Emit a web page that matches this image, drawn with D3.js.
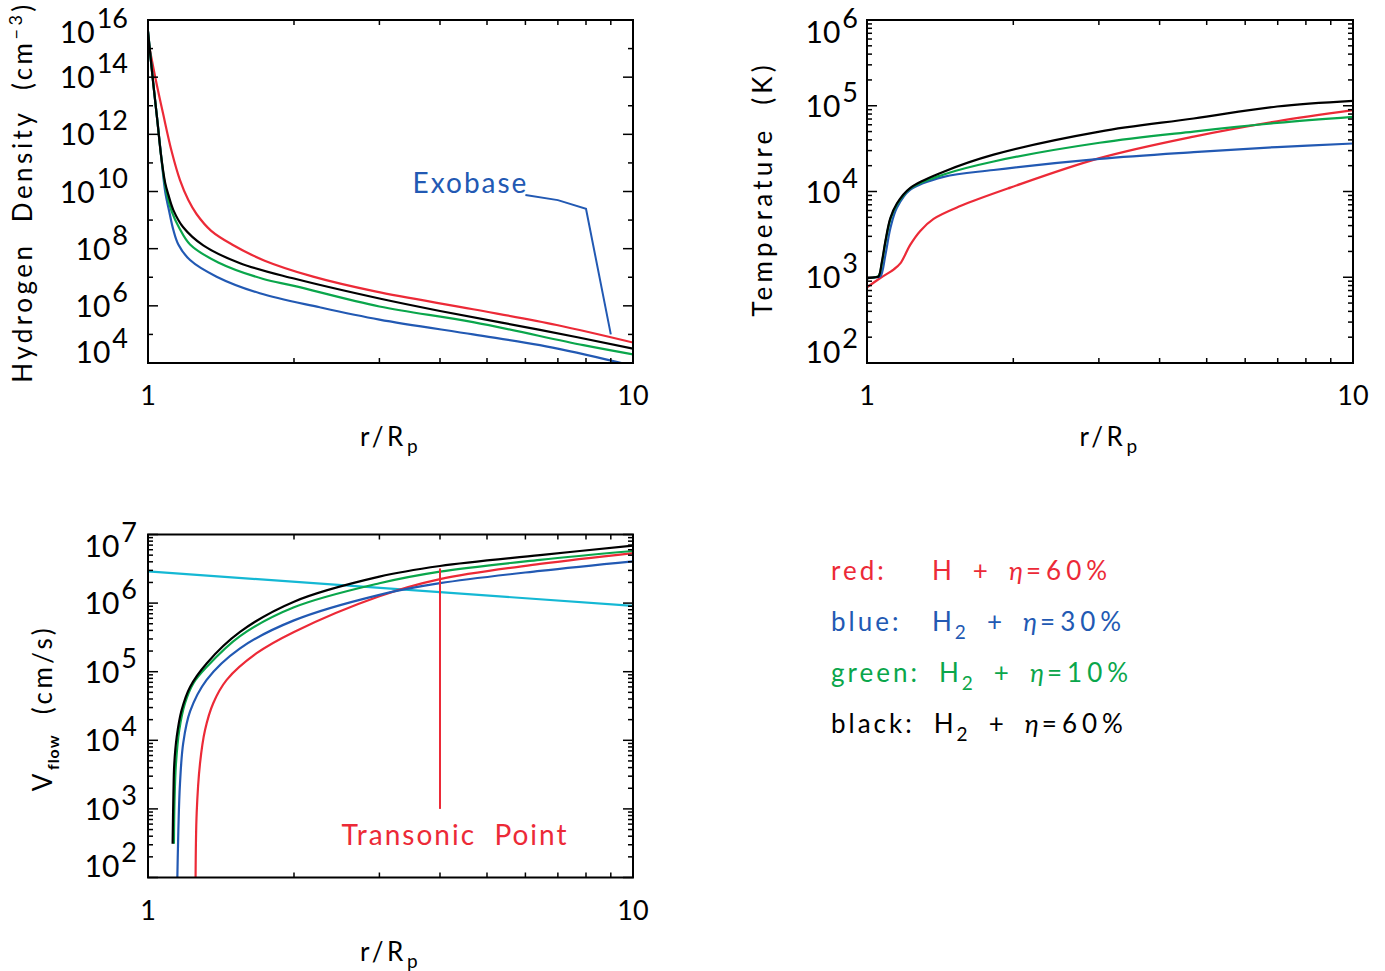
<!DOCTYPE html>
<html lang="en">
<head>
<meta charset="utf-8">
<title>Escape profiles</title>
<script src="https://d3js.org/d3.v7.min.js"></script>
<style>
  body { margin: 0; background: #fff; }
  svg text { font-family: Lato, "DejaVu Sans", sans-serif; white-space: pre; }
</style>
</head>
<body>
<div id="chart"></div>
<script>
// ---- data: [r/Rp, value] ----
var densRed   = [[1.0,2.0e15],[1.035,1.0e14],[1.075,5.0e12],[1.119,2.5e11],[1.164,2.5e10],[1.211,5.0e9],[1.26,1.6e9],[1.35,4.2e8],[1.49,1.4e8],[1.74,3.8e7],[2.19,1.05e7],[2.94,3.2e6],[4.68,7.6e5],[6.96,2.14e5],[10,5.2e4]];
var densBlack = [[1.0,4.0e15],[1.025,6.3e13],[1.045,3.2e12],[1.065,1.6e11],[1.085,2.0e10],[1.101,7.9e9],[1.128,2.24e9],[1.182,5.6e8],[1.3,1.3e8],[1.548,3.1e7],[2.0,9.0e6],[3.0,1.8e6],[4.0,6.6e5],[6.43,1.45e5],[10,3.2e4]];
var densGreen = [[1.0,4.0e15],[1.025,6.3e13],[1.045,3.2e12],[1.065,1.6e11],[1.085,1.6e10],[1.119,2.0e9],[1.16,5.3e8],[1.221,1.4e8],[1.396,3.3e7],[1.729,8.7e6],[2.0,5.0e6],[3.0,9.5e5],[4.68,2.7e5],[7.9,4.2e4],[10,2.0e4]];
var densBlue  = [[1.0,4.0e15],[1.025,6.3e13],[1.045,3.2e12],[1.065,1.6e11],[1.085,1.0e10],[1.106,2.0e9],[1.128,4.5e8],[1.155,1.41e8],[1.221,4.0e7],[1.385,1.05e7],[1.70,2.75e6],[2.26,8.9e5],[3.0,3.3e5],[4.68,1.0e5],[6.43,4.2e4],[8.83,1.32e4],[10,7.9e3]];
var exobaseLine = [[6.0,7.5e9],[7.0,5.0e9],[8.0,2.5e9],[9.0,1.0e5]];

var tempRed   = [[1.0,760],[1.065,980],[1.134,1230],[1.171,1450],[1.228,2400],[1.287,3470],[1.371,4790],[1.556,6760],[1.972,1.11e4],[3.01,2.45e4],[4.70,4.37e4],[6.98,6.6e4],[10,8.9e4]];
var tempBlack = [[1.0,977],[1.04,1000],[1.056,1020],[1.073,1510],[1.091,2630],[1.117,4900],[1.152,7240],[1.228,1.10e4],[1.438,1.70e4],[1.822,2.69e4],[3.01,5.0e4],[4.70,7.1e4],[6.98,9.8e4],[10,1.14e5]];
var tempGreen = [[1.0,977],[1.04,1000],[1.058,1050],[1.075,1550],[1.093,2700],[1.119,4900],[1.155,7200],[1.228,1.09e4],[1.438,1.58e4],[1.822,2.24e4],[3.01,3.7e4],[4.70,5.0e4],[6.98,6.3e4],[10,7.4e4]];
var tempBlue  = [[1.0,977],[1.045,1000],[1.065,1020],[1.091,1820],[1.117,3720],[1.152,6460],[1.228,1.05e4],[1.438,1.48e4],[1.822,1.78e4],[3.01,2.4e4],[4.70,2.88e4],[6.98,3.3e4],[10,3.63e4]];

var velRed   = [[1.253,60],[1.26,870],[1.28,4570],[1.311,1.41e4],[1.363,3.47e4],[1.453,7.6e4],[1.675,1.86e5],[2.0,3.8e5],[3.0,1.26e6],[4.0,2.24e6],[6.43,3.72e6],[10,5.37e6]];
var velBlack = [[1.124,310],[1.128,1510],[1.133,4570],[1.146,1.12e4],[1.173,2.75e4],[1.221,6.0e4],[1.321,1.32e5],[1.548,3.8e5],[2.0,1.05e6],[3.0,2.43e6],[4.0,3.47e6],[6.43,5.0e6],[10,6.9e6]];
var velGreen = [[1.131,310],[1.134,1260],[1.142,4570],[1.16,1.41e4],[1.192,3.47e4],[1.24,6.76e4],[1.321,1.17e5],[1.548,3.3e5],[2.0,8.7e5],[3.0,1.95e6],[4.0,2.88e6],[6.43,4.27e6],[10,5.75e6]];
var velBlue  = [[1.148,60],[1.155,490],[1.164,2340],[1.182,9100],[1.221,2.63e4],[1.321,7.6e4],[1.548,2.19e5],[2.0,5.6e5],[3.0,1.32e6],[4.0,1.95e6],[6.43,2.95e6],[10,4.07e6]];
var soundSpeed = [[1.0,2.9e6],[10,9.1e5]];
var transonicLine = [[4.0,3.2e6],[4.0,1.0e3]];

var densTickExps = [4,6,8,10,12,14,16];
var tempTickExps = [2,3,4,5,6];
var velTickExps  = [2,3,4,5,6,7];
var xTickLabels  = [1,10];

var legendNames   = ["red:", "blue:", "green:", "black:"];
var legendSpecies = ["H", "H2", "H2", "H2"];
var legendEta     = ["60%", "30%", "10%", "60%"];

var colors = { red: "#ec2a37", blue: "#2259b3", green: "#0aa64b", black: "#000000", cyan: "#14b8d4" };
var legendColors = [colors.red, colors.blue, colors.green, colors.black];

var svg = d3.select("#chart").append("svg")
    .attr("width", 1385)
    .attr("height", 971);

function panel(p) {
    var x = d3.scaleLog().domain([1, 10]).range([p.left, p.right]);
    var y = d3.scaleLog().domain(p.yDomain).range([p.bottom, p.top]);
    var g = svg.append("g");

    svg.append("clipPath").attr("id", "clip-" + p.id)
        .append("rect")
        .attr("x", p.left).attr("y", p.top)
        .attr("width", p.right - p.left).attr("height", p.bottom - p.top);

    var smooth = d3.line()
        .x(function(d) { return x(d[0]); })
        .y(function(d) { return y(d[1]); })
        .curve(d3.curveCatmullRom.alpha(0.5));
    var straight = d3.line()
        .x(function(d) { return x(d[0]); })
        .y(function(d) { return y(d[1]); });

    var lines = g.append("g").attr("clip-path", "url(#clip-" + p.id + ")");
    p.series.forEach(function(s) {
        lines.append("path")
            .datum(s.data)
            .attr("d", s.straight ? straight : smooth)
            .attr("fill", "none")
            .attr("stroke", s.color)
            .attr("stroke-width", 2.2);
    });

    // frame
    g.append("rect")
        .attr("x", p.left).attr("y", p.top)
        .attr("width", p.right - p.left).attr("height", p.bottom - p.top)
        .attr("fill", "none").attr("stroke", "#000").attr("stroke-width", 2);

    // x ticks (inward, top and bottom)
    var xt = x.ticks().filter(function(v) { return v > 1 && v < 10; });
    xt.forEach(function(v) {
        g.append("line").attr("x1", x(v)).attr("x2", x(v)).attr("y1", p.bottom).attr("y2", p.bottom - 5)
            .attr("stroke", "#000").attr("stroke-width", 1.5);
        g.append("line").attr("x1", x(v)).attr("x2", x(v)).attr("y1", p.top).attr("y2", p.top + 5)
            .attr("stroke", "#000").attr("stroke-width", 1.5);
    });

    // y ticks
    p.yTicks(y).forEach(function(t) {
        var len = t.major ? 10 : 5;
        var yy = y(t.v);
        g.append("line").attr("x1", p.left).attr("x2", p.left + len).attr("y1", yy).attr("y2", yy)
            .attr("stroke", "#000").attr("stroke-width", 1.5);
        g.append("line").attr("x1", p.right).attr("x2", p.right - len).attr("y1", yy).attr("y2", yy)
            .attr("stroke", "#000").attr("stroke-width", 1.5);
    });

    // y tick labels, first/last kept inside the frame height like IDL does
    p.yLabels.forEach(function(e) {
        var cy = Math.max(p.top + 11.5, Math.min(p.bottom - 11.5, y(Math.pow(10, e))));
        var t = g.append("text")
            .attr("x", p.labelRight).attr("y", cy + 11)
            .attr("text-anchor", "end")
            .style("font-size", "30px");
        t.append("tspan").text("10");
        t.append("tspan").attr("dx", 2).attr("dy", -15).style("font-size", "27px").text(e);
    });

    // x tick labels
    xTickLabels.forEach(function(v) {
        g.append("text")
            .attr("x", x(v)).attr("y", p.bottom + 42)
            .attr("text-anchor", "middle")
            .style("font-size", "27px")
            .text(v);
    });

    // x title
    var xt2 = g.append("text")
        .attr("x", (p.left + p.right) / 2).attr("y", p.bottom + 83)
        .attr("text-anchor", "middle")
        .style("font-size", "26px").style("letter-spacing", "3.5px");
    xt2.append("tspan").text("r/R");
    xt2.append("tspan").attr("dy", 7).style("font-size", "19px").text("p");

    return { x: x, y: y, g: g };
}

function logTicks(y) {
    return y.ticks(20).map(function(v) {
        var m = v / Math.pow(10, Math.floor(Math.log10(v) + 1e-9));
        return { v: v, major: Math.abs(m - 1) < 1e-6 };
    });
}

// ---- density panel ----
var p1 = panel({
    id: "dens", left: 148, right: 633, top: 20, bottom: 363,
    yDomain: [1e4, 1e16], labelRight: 128, yLabels: densTickExps,
    yTicks: function() {
        return d3.range(4, 17).map(function(e) { return { v: Math.pow(10, e), major: e % 2 === 0 }; });
    },
    series: [
        { data: densRed, color: colors.red },
        { data: densBlue, color: colors.blue },
        { data: densGreen, color: colors.green },
        { data: densBlack, color: colors.black }
    ]
});
p1.g.append("path")
    .datum(exobaseLine)
    .attr("d", d3.line().x(function(d) { return p1.x(d[0]); }).y(function(d) { return p1.y(d[1]); }))
    .attr("fill", "none").attr("stroke", colors.blue).attr("stroke-width", 2);
p1.g.append("text")
    .attr("x", p1.x(exobaseLine[0][0]) + 3).attr("y", p1.y(exobaseLine[0][1]) - 2)
    .attr("text-anchor", "end")
    .attr("fill", colors.blue)
    .style("font-size", "28px").style("letter-spacing", "2px")
    .text("Exobase");
var yt1 = p1.g.append("text")
    .attr("transform", "translate(32,192) rotate(-90)")
    .attr("text-anchor", "middle")
    .style("font-size", "26px").style("letter-spacing", "3.5px");
yt1.append("tspan").text("Hydrogen  Density  (cm");
yt1.append("tspan").attr("dy", -10).style("font-size", "18px").text("\u22123");
yt1.append("tspan").attr("dy", 10).text(")");

// ---- temperature panel ----
var p2 = panel({
    id: "temp", left: 867, right: 1353, top: 20, bottom: 363,
    yDomain: [1e2, 1e6], labelRight: 858, yLabels: tempTickExps,
    yTicks: logTicks,
    series: [
        { data: tempRed, color: colors.red },
        { data: tempBlue, color: colors.blue },
        { data: tempGreen, color: colors.green },
        { data: tempBlack, color: colors.black }
    ]
});
p2.g.append("text")
    .attr("transform", "translate(772,189) rotate(-90)")
    .attr("text-anchor", "middle")
    .style("font-size", "26px").style("letter-spacing", "4.2px")
    .text("Temperature  (K)");

// ---- velocity panel ----
var p3 = panel({
    id: "vel", left: 148, right: 633, top: 534.5, bottom: 877.5,
    yDomain: [1e2, 1e7], labelRight: 137, yLabels: velTickExps,
    yTicks: logTicks,
    series: [
        { data: soundSpeed, color: colors.cyan, straight: true },
        { data: velRed, color: colors.red },
        { data: velBlue, color: colors.blue },
        { data: velGreen, color: colors.green },
        { data: velBlack, color: colors.black }
    ]
});
p3.g.append("path")
    .datum(transonicLine)
    .attr("d", d3.line().x(function(d) { return p3.x(d[0]); }).y(function(d) { return p3.y(d[1]); }))
    .attr("fill", "none").attr("stroke", colors.red).attr("stroke-width", 2);
p3.g.append("text")
    .attr("x", p3.x(transonicLine[1][0]) + 15).attr("y", p3.y(transonicLine[1][1]) + 36)
    .attr("text-anchor", "middle")
    .attr("fill", colors.red)
    .style("font-size", "28px").style("letter-spacing", "2px")
    .text("Transonic  Point");
var yt3 = p3.g.append("text")
    .attr("transform", "translate(52,708) rotate(-90)")
    .attr("text-anchor", "middle")
    .style("font-size", "26px").style("letter-spacing", "3.5px");
yt3.append("tspan").text("V");
yt3.append("tspan").attr("dy", 7).style("font-size", "16px").style("font-weight", "bold").style("letter-spacing", "1px").text("flow");
yt3.append("tspan").attr("dy", -7).text("  (cm/s)");

// ---- legend ----
legendNames.forEach(function(name, i) {
    var yb = 580 + i * 51;
    var lab = svg.append("text")
        .attr("x", 831).attr("y", yb)
        .attr("fill", legendColors[i])
        .style("font-size", "26px").style("letter-spacing", "3px")
        .text(name);
    var fx = Math.max(932, 831 + lab.node().getComputedTextLength() + 19);
    var t = svg.append("text")
        .attr("x", fx).attr("y", yb)
        .attr("fill", legendColors[i])
        .style("font-size", "26px").style("letter-spacing", "3px");
    var sp = legendSpecies[i];
    t.append("tspan").text(sp.charAt(0));
    if (sp.length > 1) {
        t.append("tspan").attr("dy", 8).style("font-size", "19px").text(sp.slice(1));
        t.append("tspan").attr("dy", -8).attr("dx", 18).text("+");
    } else {
        t.append("tspan").attr("dx", 18).text("+");
    }
    t.append("tspan").attr("dx", 18).style("font-style", "italic").text("\u03b7");
    t.append("tspan").style("letter-spacing", "5px").text("=" + legendEta[i]);
});
</script>
</body>
</html>
